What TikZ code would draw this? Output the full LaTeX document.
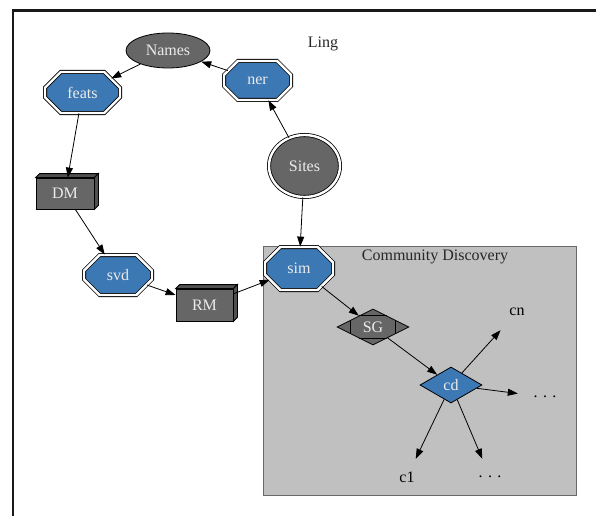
\documentclass[tikz,border=0pt]{standalone}
\usepackage{fontspec}
\setmainfont{Liberation Serif}
\usetikzlibrary{shapes.geometric,shapes.misc,arrows.meta}
\definecolor{nblue}{RGB}{60,120,180}
\definecolor{ngray}{RGB}{102,102,102}
\definecolor{nside}{RGB}{80,80,80}
\definecolor{cfill}{RGB}{192,192,192}
\definecolor{cline}{RGB}{105,105,105}
\definecolor{ntext}{RGB}{235,235,235}
\begin{document}
\begin{tikzpicture}[x=1pt,y=-1pt,
  font=\fontsize{16}{19}\selectfont,
  every node/.style={inner sep=0pt},
  oct/.style={chamfered rectangle, chamfered rectangle xsep=16pt, chamfered rectangle ysep=10pt,
    draw=black, line width=0.8pt, double=white, double distance=2.4pt, fill=nblue, text=ntext},
  ell/.style={ellipse, draw=black, line width=0.8pt, fill=ngray, text=ntext},
  boxthree/.style={rectangle, draw=black, line width=0.8pt, fill=ngray, text=ntext},
  dia/.style={diamond, draw=black, line width=0.8pt},
  plain/.style={minimum width=54pt, minimum height=36pt, text=black},
  edge/.style={line width=0.8pt, -{Triangle[length=10pt,width=7pt]}}]
\useasboundingbox (0,0) rectangle (596,516);
% outer frame
\draw[line width=2.5pt, black!90] (596,10.5) -- (13,10.5) -- (13,516);
% cluster
\node[draw=cline, fill=cfill, line width=1.2pt, minimum width=313pt, minimum height=249pt, anchor=north west] (cluster) at (263,246) {};
\node[text=black!85] (cdlabel) at (435,257) {Community Discovery};
\node[text=black!85] (ling) at (323,44) {Ling};
% nodes
\node[ell, minimum width=84pt, minimum height=35pt] (names) at (168,50.5) {Names};
\node[oct, minimum width=75pt, minimum height=41pt] (feats) at (82.5,92.5) {feats};
\node[oct, minimum width=67pt, minimum height=39pt] (ner) at (257.5,80.5) {ner};
\node[ell, double=white, double distance=2.4pt, minimum width=71pt, minimum height=62pt] (sites) at (304.5,166) {Sites};
\node[boxthree, minimum width=58pt, minimum height=31pt] (dm) at (65,193.5) {DM};
\node[oct, minimum width=68pt, minimum height=40pt] (svd) at (118,275) {svd};
\node[boxthree, minimum width=57pt, minimum height=32pt] (rm) at (204.5,305) {RM};
\node[oct, minimum width=68pt, minimum height=43pt] (sim) at (299,268.5) {sim};
\node[dia, fill=ngray, text=ntext, minimum width=72pt, minimum height=36pt] (sg) at (373,327) {};
\node[text=ntext] (sgtext) at (373,327) {SG};
\node[dia, fill=nblue, text=ntext, minimum width=62pt, minimum height=36pt] (cd) at (451,385) {cd};
\node[plain] (cn) at (517,312) {cn};
\node[plain] (dots1) at (545,397) {. . .};
\node[plain] (c1) at (407,477) {c1};
\node[plain] (dots2) at (490,477) {. . .};
% 3D box sides
\foreach \b in {dm,rm}{
  \draw[line width=0.8pt, fill=nside] (\b.north west) -- ++(4,-4) -- ([shift={(4pt,4pt)}]\b.north east) -- (\b.north east) -- cycle;
  \draw[line width=0.8pt, fill=nside] (\b.north east) -- ++(4,-4) -- ([shift={(4pt,4pt)}]\b.south east) -- (\b.south east) -- cycle;
}
% Mdiamond marks
\draw[line width=0.8pt] ([xshift=14pt]sg.west) ++(0,-7) -- ++(0,14);
\draw[line width=0.8pt] ([xshift=-14pt]sg.east) ++(0,-7) -- ++(0,14);
\draw[line width=0.8pt] ([yshift=-7pt]sg.north) ++(-14,0) -- ++(28,0);
\draw[line width=0.8pt] ([yshift=7pt]sg.south) ++(-14,0) -- ++(28,0);
% edges
\draw[edge] (ner) -- (names);
\draw[edge] (names) -- (feats);
\draw[edge] (feats) -- (dm);
\draw[edge] (dm) -- (svd);
\draw[edge] (svd) -- (rm);
\draw[edge] (rm) -- (sim);
\draw[edge] (sites) -- (ner);
\draw[edge] (sites) -- (sim);
\draw[edge] (sim) -- (sg);
\draw[edge] (sg) -- (cd);
\draw[edge] (cd) -- (cn);
\draw[edge] (cd) -- (dots1);
\draw[edge] (cd) -- (c1);
\draw[edge] (cd) -- (dots2);
\end{tikzpicture}
\end{document}
